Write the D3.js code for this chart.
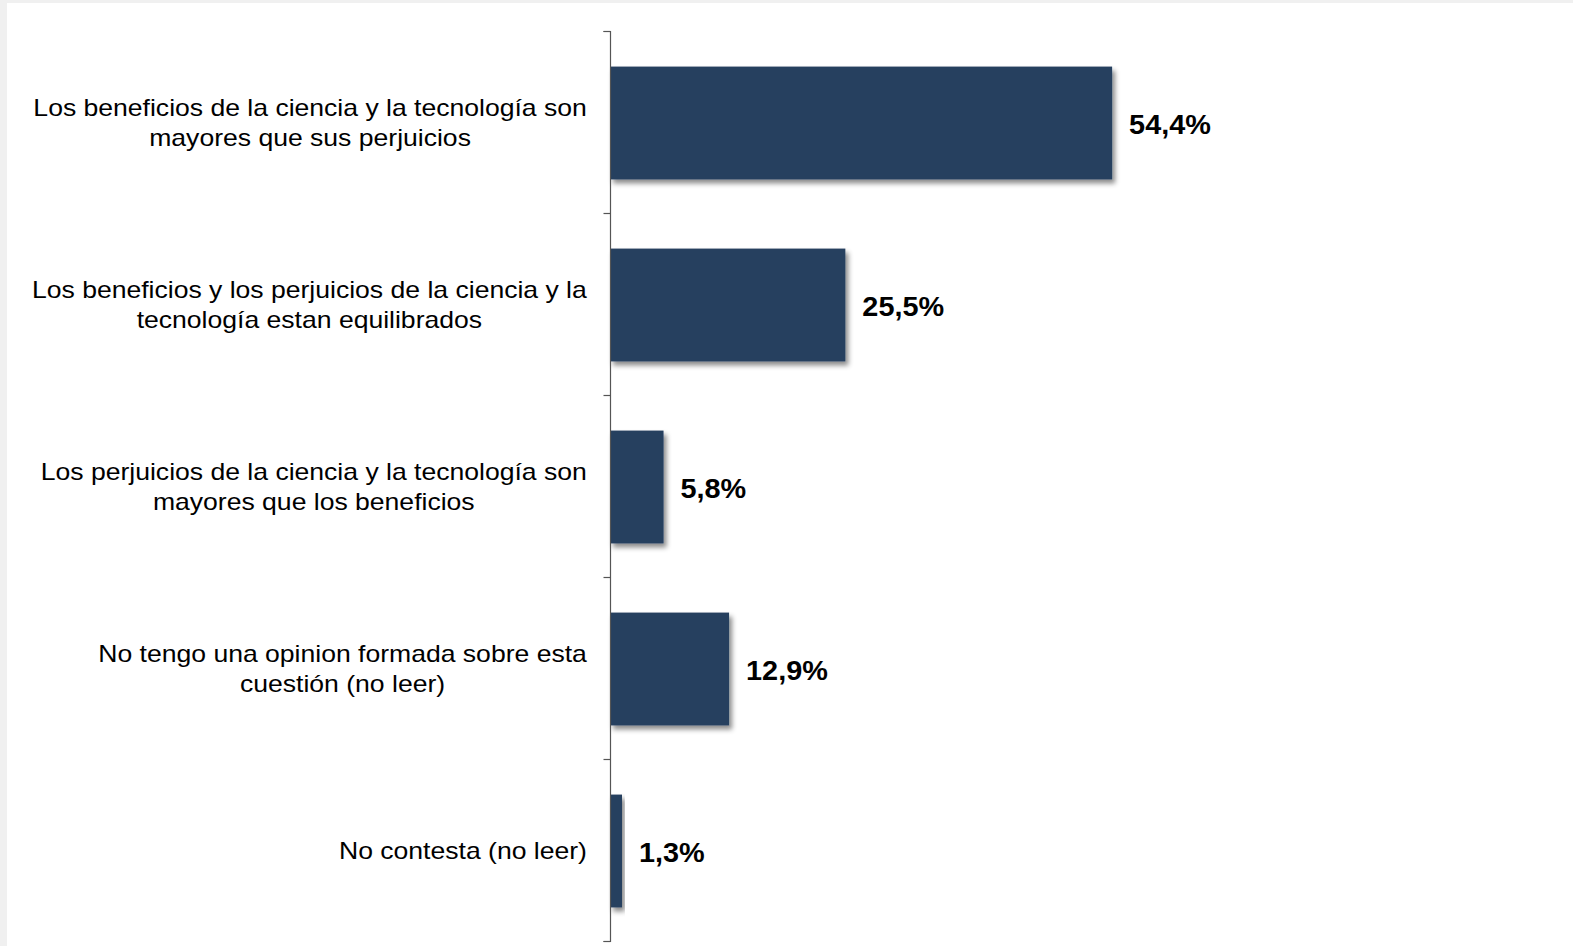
<!DOCTYPE html>
<html><head><meta charset="utf-8">
<script src="https://cdn.jsdelivr.net/npm/d3@7"></script>
<style>
html,body{margin:0;padding:0;background:#f0f0f0;}
svg{display:block;}
text{font-family:'Liberation Sans', Arial, Helvetica, sans-serif;}
</style></head>
<body>
<svg id="chart" width="1573" height="946"></svg>
<script>
const categories = [
  ["Los beneficios de la ciencia y la tecnología son", "mayores que sus perjuicios"],
  ["Los beneficios y los perjuicios de la ciencia y la", "tecnología estan equilibrados"],
  ["Los perjuicios de la ciencia y la tecnología son", "mayores que los beneficios"],
  ["No tengo una opinion formada sobre esta", "cuestión (no leer)"],
  ["No contesta (no leer)"]
];
const values = [54.4, 25.5, 5.8, 12.9, 1.3];
const valueLabels = ["54,4%", "25,5%", "5,8%", "12,9%", "1,3%"];

(function () {
const svg = d3.select("#chart");
svg.append("rect").attr("x", 7).attr("y", 3).attr("width", 1573 - 7).attr("height", 946 - 3).attr("fill", "#ffffff");

const defs = svg.append("defs");
const f = defs.append("filter").attr("id", "shadow").attr("x", "-10%").attr("y", "-10%").attr("width", "130%").attr("height", "140%");
f.append("feDropShadow").attr("dx", 3).attr("dy", 4).attr("stdDeviation", 2.5).attr("flood-color", "#000").attr("flood-opacity", 0.45);

const x0 = 610, yTop = 31, yBottom = 941;
const idx = d3.range(values.length);
const y = d3.scaleBand().domain(idx).range([yTop, yBottom]).paddingInner(0.38).paddingOuter(0.19);
const x = d3.scaleLinear().domain([0, 100]).range([x0, x0 + 923]);

// bars
svg.append("g").selectAll("rect").data(idx).join("rect")
  .attr("x", x(0)).attr("y", i => y(i) + 1)
  .attr("width", i => x(values[i]) - x(0)).attr("height", y.bandwidth())
  .attr("fill", "#253f5f").attr("filter", "url(#shadow)");

// axis
const yEdge = d3.scaleLinear().domain([0, values.length]).range([yTop, yBottom]);
const axis = svg.append("g").attr("transform", `translate(${x0 + 0.5},0)`);
axis.call(d3.axisLeft(yEdge).tickValues(d3.range(values.length + 1)).tickSize(7).tickFormat(""));
axis.select(".domain").attr("d", `M-7,${yTop+0.5}H0V${yBottom+0.5}H-7`).attr("stroke", "#555").attr("stroke-width", 1.2);
axis.selectAll(".tick line").attr("stroke", "#555").attr("stroke-width", 1.2);

// category labels (slightly widened glyphs, as in the reference)
const lh = 30, sx = 1.107, fs = 24;
const labG = svg.append("g");
idx.forEach(i => {
  const lines = categories[i];
  const cy = y(i) + y.bandwidth() / 2;
  const t = labG.append("g");
  const texts = lines.map((ln, k) => t.append("text")
    .attr("font-size", fs).attr("fill", "#000")
    .attr("text-anchor", "middle")
    .datum(cy + (k - (lines.length - 1) / 2) * lh + 8.5)
    .text(ln));
  const w = d3.max(texts, tt => tt.node().getComputedTextLength()) * sx;
  texts.forEach(tt => tt.attr("transform", d => `translate(${587 - w / 2},${d}) scale(${sx},1)`));
});

// value labels
svg.append("g").selectAll("text").data(idx).join("text")
  .attr("transform", i => `translate(${x(values[i]) + 17},${y(i) + y.bandwidth() / 2 + 12}) scale(1.03,1)`)
  .attr("font-weight", "bold").attr("font-size", 28).attr("fill", "#000")
  .text(i => valueLabels[i]);
})();
</script>
</body></html>
